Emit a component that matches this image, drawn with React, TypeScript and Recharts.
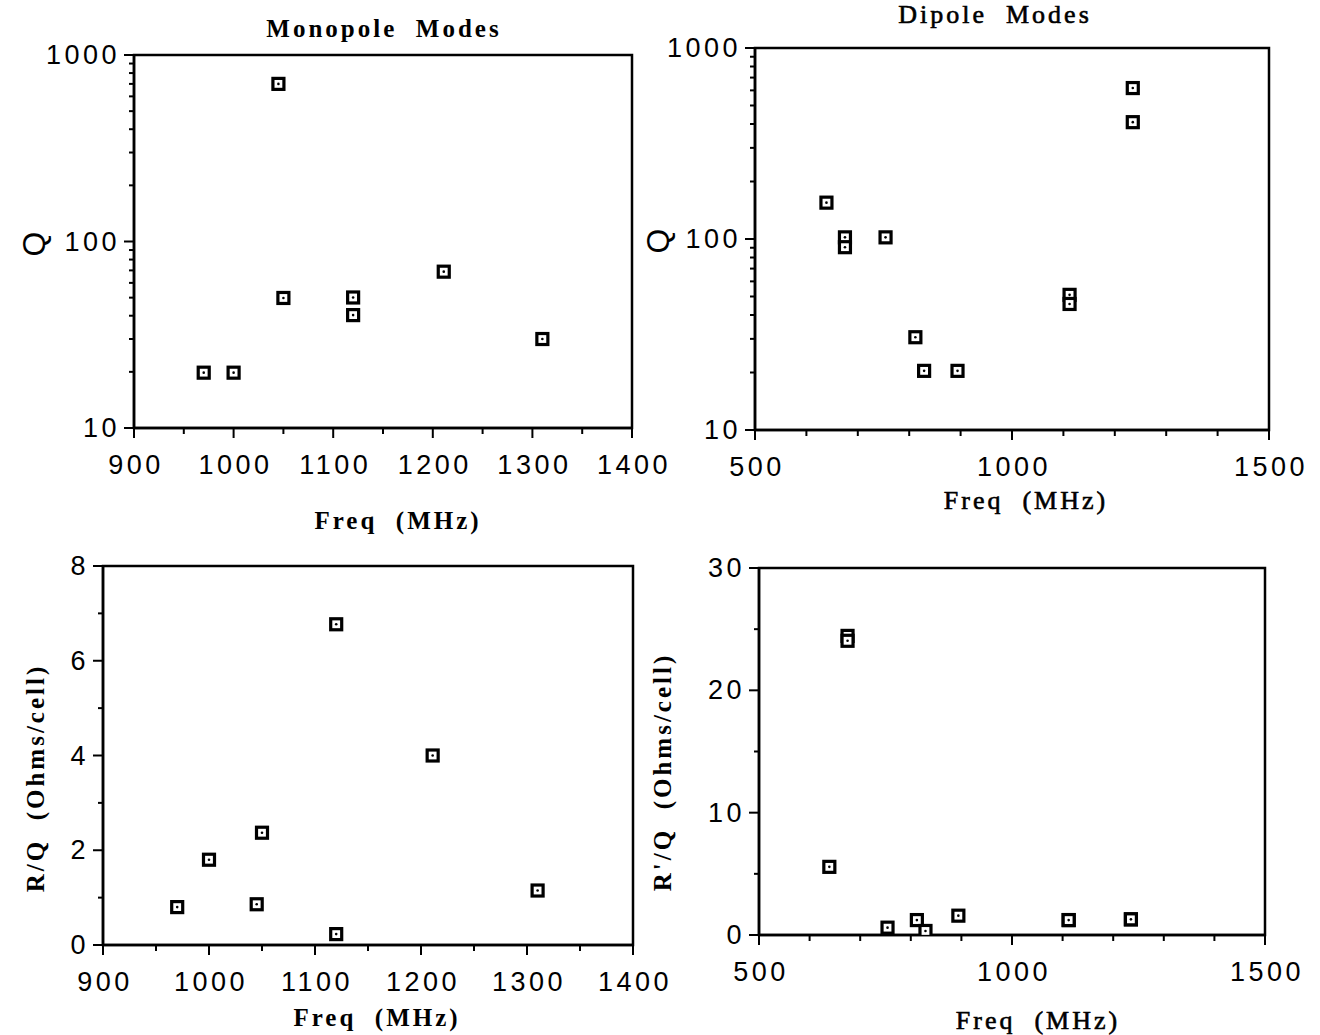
import React from "react";
import { ScatterChart, Scatter, XAxis, YAxis, ReferenceArea, Label } from "recharts";

// monopole modes
const monoFreq = [970, 1000, 1045, 1050, 1120, 1120, 1211, 1310];
const monoQ = [19.8, 19.8, 700, 49.8, 50.1, 40.3, 68.9, 30];
const monoRQ = [0.8, 1.8, 0.86, 2.37, 6.77, 0.23, 4.0, 1.15];

// dipole modes
const dipFreq = [639, 675, 675, 754, 812, 829, 894, 1112, 1112, 1235, 1235];
const dipQ = [155, 102, 90.6, 102, 30.6, 20.4, 20.4, 51, 45.7, 617, 409];
const dipRQ = [5.57, 24.45, 24.05, 0.6, 1.22, 0.33, 1.58, 1.22, 1.22, 1.28, 1.28];

// ticks
const monoXTicks = [900, 950, 1000, 1050, 1100, 1150, 1200, 1250, 1300, 1350, 1400];
const monoXLabels = [900, 1000, 1100, 1200, 1300, 1400];
const dipXTicks = [500, 600, 700, 800, 900, 1000, 1100, 1200, 1300, 1400, 1500];
const dipXLabels = [500, 1000, 1500];
const logTicks = [10, 20, 30, 40, 50, 60, 70, 80, 90, 100, 200, 300, 400, 500, 600, 700, 800, 900, 1000];
const logLabels = [10, 100, 1000];
const rqTicks = [0, 1, 2, 3, 4, 5, 6, 7, 8];
const rqLabels = [0, 2, 4, 6, 8];
const rpqTicks = [0, 5, 10, 15, 20, 25, 30];
const rpqLabels = [0, 10, 20, 30];

const zip = (xs: number[], ys: number[]) => xs.map((x, i) => ({ x, y: ys[i] }));

const numFont = { fontFamily: "'Liberation Sans', Arial, sans-serif", fontSize: 27, letterSpacing: 3.5, fill: "#000" };
const serifBold = { fontFamily: "'Liberation Serif', 'Times New Roman', serif", fontSize: 25, fontWeight: 700, letterSpacing: 3, fill: "#000", whiteSpace: "pre" as const };
// the right-hand captions are a medium weight in the scan
const serifReg = { ...serifBold, fontWeight: 400, fontSize: 26, stroke: "#000", strokeWidth: 0.6, WebkitTextStroke: "0.6px #000" };

const Square = (props: any) => {
  const { cx, cy } = props;
  return (
    <g>
      <rect x={cx - 5.5} y={cy - 5.5} width={11} height={11} fill="#fff" stroke="#000" strokeWidth={3.2} />
      <circle cx={cx} cy={cy} r={1.3} fill="#000" />
    </g>
  );
};

const xTick = (labels: number[]) => (props: any) => {
  const { x, y, payload } = props;
  const lab = labels.includes(payload.value);
  return (
    <g>
      <line x1={x} y1={y} x2={x} y2={y + (lab ? 10 : 6)} stroke="#000" strokeWidth={2} />
      {lab && (
        <text x={x + 2} y={y + 37} textAnchor="middle" dominantBaseline="central" style={numFont}>
          {payload.value}
        </text>
      )}
    </g>
  );
};

const yTick = (labels: number[]) => (props: any) => {
  const { x, y, payload } = props;
  const lab = labels.includes(payload.value);
  return (
    <g>
      <line x1={x} y1={y} x2={x - (lab ? 10 : 5)} y2={y} stroke="#000" strokeWidth={2} />
      {lab && (
        <text x={x - 14} y={y} textAnchor="end" dominantBaseline="central" style={numFont}>
          {payload.value}
        </text>
      )}
    </g>
  );
};

const hTitle = (text: string, x: number, y: number, style: any) => () => (
  <text x={x} y={y} textAnchor="middle" dominantBaseline="central" style={style}>
    {text}
  </text>
);

const vTitle = (text: string, x: number, y: number, style: any) => () => (
  <text x={x} y={y} transform={`rotate(-90 ${x} ${y})`} textAnchor="middle" dominantBaseline="central" style={style}>
    {text}
  </text>
);

type PanelProps = {
  left: number;
  top: number;
  width: number;
  height: number;
  margin: { top: number; right: number; bottom: number; left: number };
  yWidth: number;
  xHeight: number;
  data: { x: number; y: number }[];
  xDomain: [number, number];
  xTicks: number[];
  xLabels: number[];
  yDomain: [number, number];
  yTicks: number[];
  yLabels: number[];
  log?: boolean;
  xTitle: { text: string; x: number; y: number; style: any };
  yTitle: { text: string; x: number; y: number; style: any };
};

function Panel(p: PanelProps) {
  return (
    <div style={{ position: "absolute", left: p.left, top: p.top }}>
      <ScatterChart width={p.width} height={p.height} margin={p.margin}>
        <XAxis
          dataKey="x"
          type="number"
          domain={p.xDomain}
          ticks={p.xTicks}
          interval={0}
          allowDataOverflow
          height={p.xHeight}
          tickSize={0}
          tickMargin={0}
          tickLine={false}
          axisLine={{ stroke: "#000", strokeWidth: 2.5 }}
          tick={xTick(p.xLabels)}
        >
          <Label content={hTitle(p.xTitle.text, p.xTitle.x, p.xTitle.y, p.xTitle.style)} />
        </XAxis>
        <YAxis
          dataKey="y"
          type="number"
          scale={p.log ? "log" : "linear"}
          domain={p.yDomain}
          ticks={p.yTicks}
          interval={0}
          allowDataOverflow
          width={p.yWidth}
          tickSize={0}
          tickMargin={0}
          tickLine={false}
          axisLine={{ stroke: "#000", strokeWidth: 2.5 }}
          tick={yTick(p.yLabels)}
        >
          <Label content={vTitle(p.yTitle.text, p.yTitle.x, p.yTitle.y, p.yTitle.style)} />
        </YAxis>
        <ReferenceArea
          x1={p.xDomain[0]}
          x2={p.xDomain[1]}
          y1={p.yDomain[0]}
          y2={p.yDomain[1]}
          fill="none"
          fillOpacity={0}
          stroke="#000"
          strokeWidth={2.5}
          ifOverflow="visible"
        />
        <Scatter data={p.data} shape={Square} isAnimationActive={false} />
      </ScatterChart>
    </div>
  );
}

const qFont = { fontFamily: "'Liberation Sans', Arial, sans-serif", fontSize: 32, fill: "#000" };

export default function App() {
  return (
    <div style={{ position: "absolute", left: 0, top: 0, width: 1320, height: 1035, background: "#fff" }}>
      <div style={{ position: "absolute", left: 384, top: 29, transform: "translate(-50%, -50%)", ...serifBold, fontSize: 25, letterSpacing: 3 }}>
        {"Monopole  Modes"}
      </div>
      <div style={{ position: "absolute", left: 995, top: 15, transform: "translate(-50%, -50%)", ...serifReg, letterSpacing: 3 }}>
        {"Dipole  Modes"}
      </div>

      <Panel
        left={0}
        top={0}
        width={700}
        height={540}
        margin={{ top: 55, right: 68, bottom: 12, left: 0 }}
        yWidth={134}
        xHeight={100}
        data={zip(monoFreq, monoQ)}
        xDomain={[900, 1400]}
        xTicks={monoXTicks}
        xLabels={monoXLabels}
        yDomain={[10, 1000]}
        yTicks={logTicks}
        yLabels={logLabels}
        log
        xTitle={{ text: "Freq  (MHz)", x: 398, y: 520, style: serifBold }}
        yTitle={{ text: "Q", x: 34, y: 244, style: qFont }}
      />
      <Panel
        left={620}
        top={0}
        width={700}
        height={540}
        margin={{ top: 48, right: 51, bottom: 10, left: 0 }}
        yWidth={135}
        xHeight={100}
        data={zip(dipFreq, dipQ)}
        xDomain={[500, 1500]}
        xTicks={dipXTicks}
        xLabels={dipXLabels}
        yDomain={[10, 1000]}
        yTicks={logTicks}
        yLabels={logLabels}
        log
        xTitle={{ text: "Freq  (MHz)", x: 406, y: 500, style: serifReg }}
        yTitle={{ text: "Q", x: 38, y: 241, style: qFont }}
      />
      <Panel
        left={0}
        top={540}
        width={700}
        height={495}
        margin={{ top: 26, right: 67, bottom: 10, left: 0 }}
        yWidth={103}
        xHeight={80}
        data={zip(monoFreq, monoRQ)}
        xDomain={[900, 1400]}
        xTicks={monoXTicks}
        xLabels={monoXLabels}
        yDomain={[0, 8]}
        yTicks={rqTicks}
        yLabels={rqLabels}
        xTitle={{ text: "Freq  (MHz)", x: 377, y: 477, style: serifBold }}
        yTitle={{ text: "R/Q  (Ohms/cell)", x: 35, y: 238, style: serifBold }}
      />
      <Panel
        left={620}
        top={540}
        width={700}
        height={495}
        margin={{ top: 28, right: 55, bottom: 20, left: 0 }}
        yWidth={139}
        xHeight={80}
        data={zip(dipFreq, dipRQ)}
        xDomain={[500, 1500]}
        xTicks={dipXTicks}
        xLabels={dipXLabels}
        yDomain={[0, 30]}
        yTicks={rpqTicks}
        yLabels={rpqLabels}
        xTitle={{ text: "Freq  (MHz)", x: 418, y: 480, style: serifReg }}
        yTitle={{ text: "R'/Q  (Ohms/cell)", x: 42, y: 232, style: serifBold }}
      />
    </div>
  );
}
